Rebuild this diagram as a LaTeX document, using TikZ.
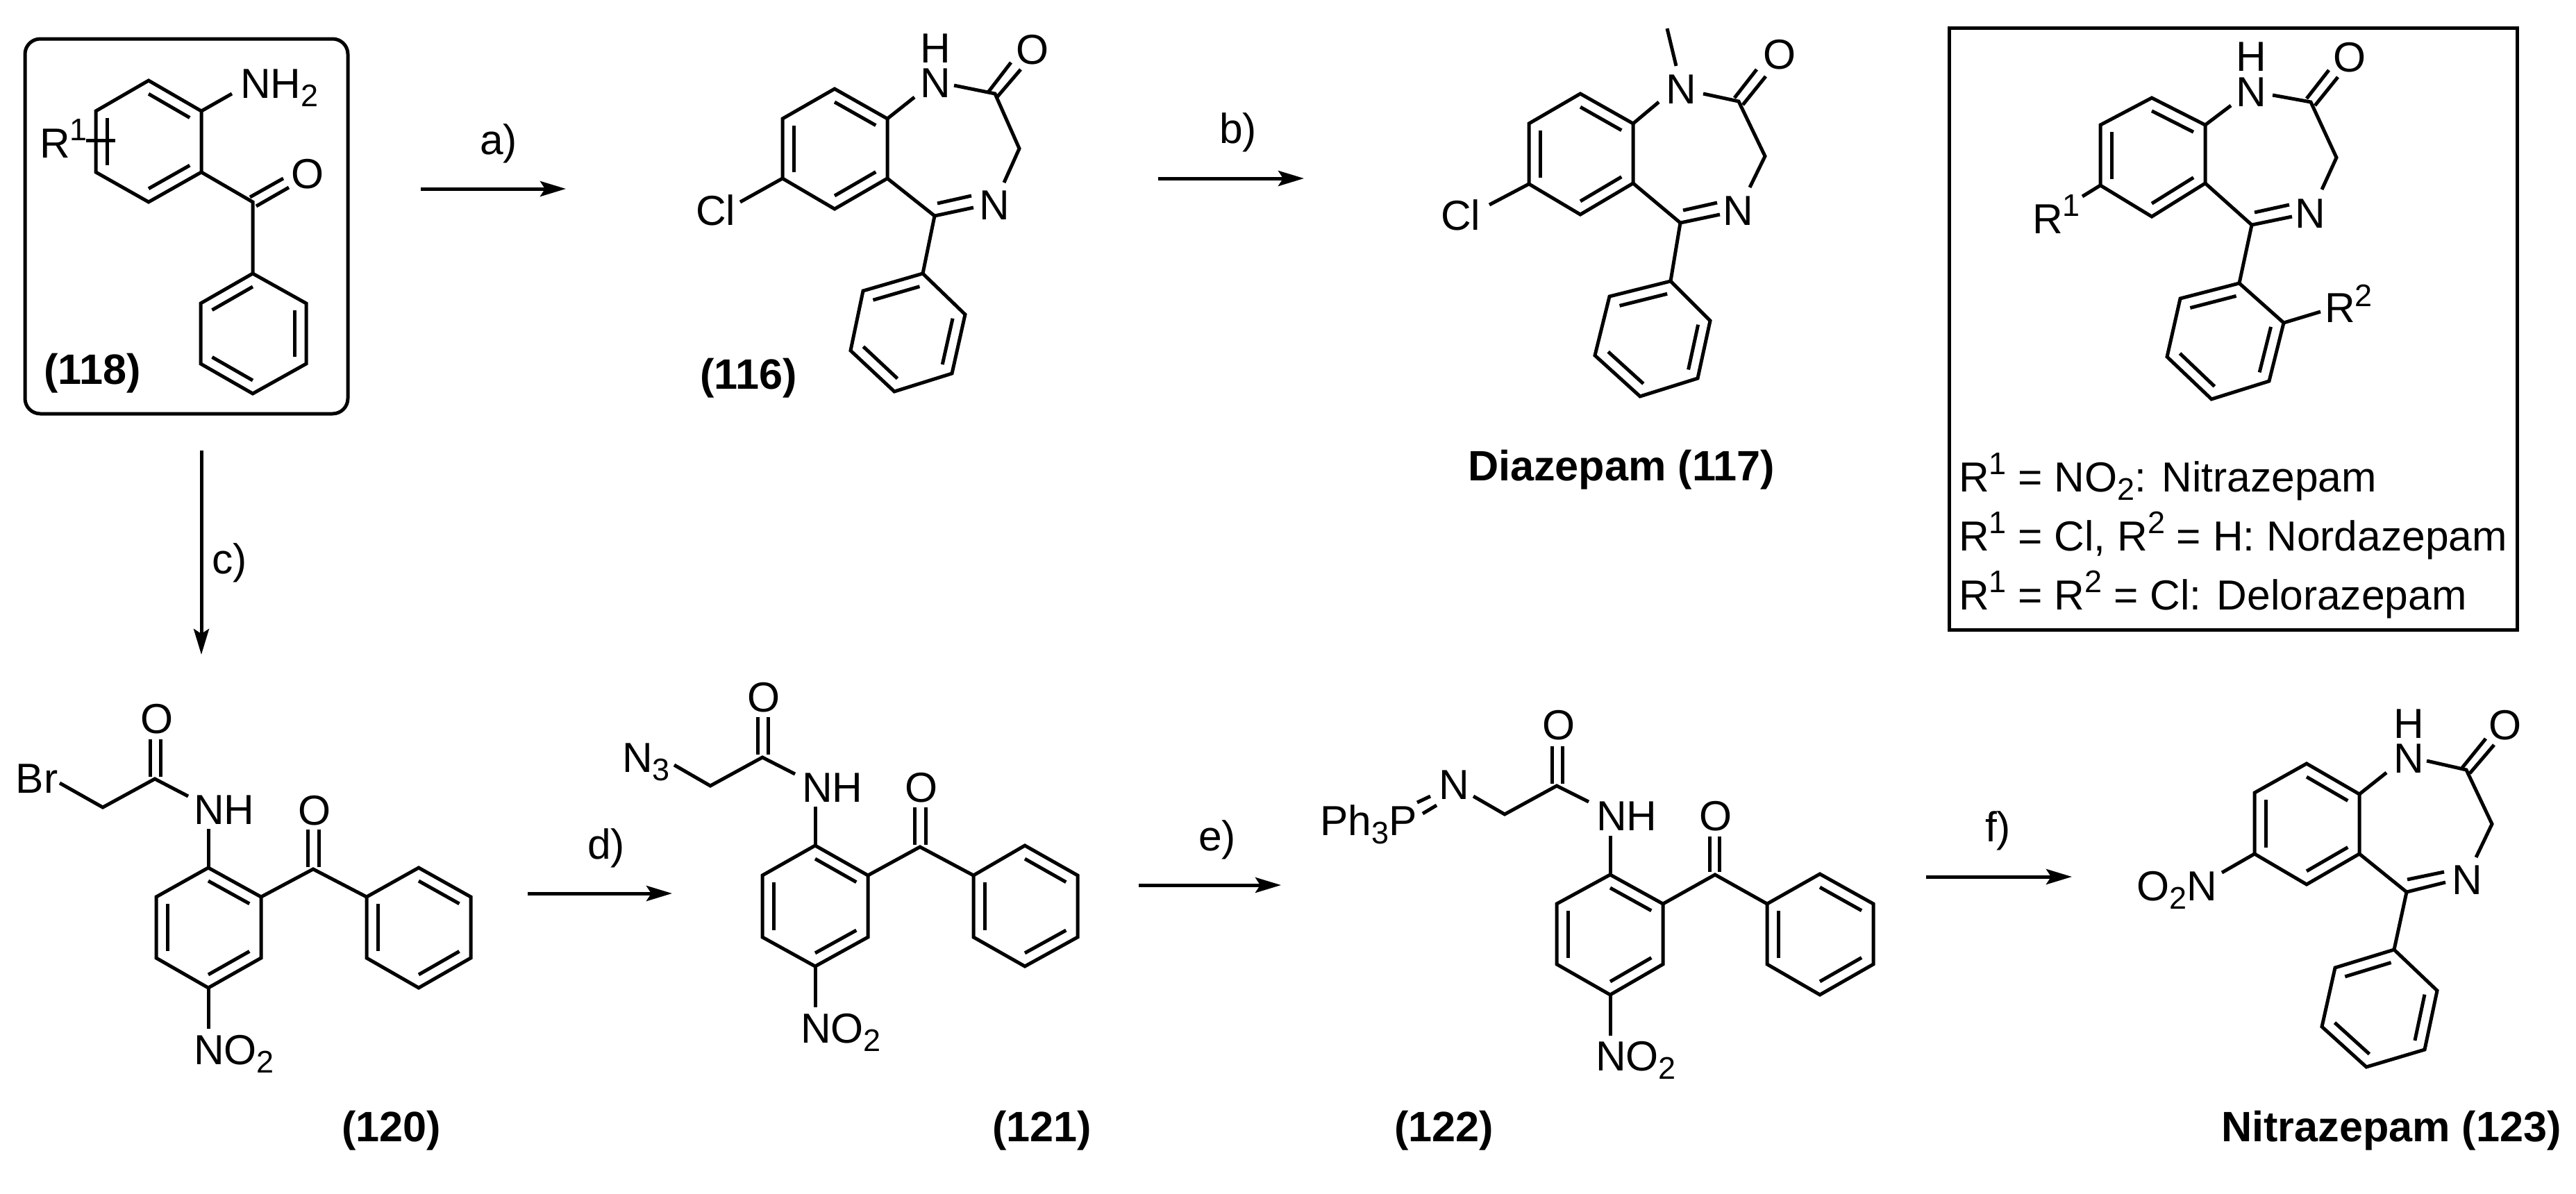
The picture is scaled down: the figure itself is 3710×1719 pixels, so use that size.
\documentclass[tikz,border=0pt]{standalone}
\usepackage{fontspec}
\setmainfont{Liberation Sans}
\usetikzlibrary{calc,arrows.meta}
\tikzset{
  bond/.style={line width=5pt,line join=miter,line cap=butt,black},
  rarrow/.style={line width=5pt,-{Stealth[length=37pt,width=22pt,inset=7pt]}},
  lbl/.style={anchor=base west,inner sep=0pt,outer sep=0pt,xshift=-4pt,font=\fontsize{60.5}{62}\selectfont},
  blbl/.style={lbl,font=\fontsize{61.2}{62}\selectfont\bfseries},
  panel/.style={draw,line width=5pt,inner sep=0pt,outer sep=0pt},
}
\newcommand{\lowsub}[2][12]{\raisebox{-#1pt}{\fontsize{45}{45}\selectfont #2}}
\newcommand{\highsup}[2][25]{\raisebox{#1pt}{\fontsize{45}{45}\selectfont #2}}
% ring: prefix and six vertices, a = top, clockwise
\newcommand{\Ring}[7]{%
  \coordinate (#1a) at (#2);\coordinate (#1b) at (#3);\coordinate (#1c) at (#4);
  \coordinate (#1d) at (#5);\coordinate (#1e) at (#6);\coordinate (#1f) at (#7);
  \coordinate (#1o) at ($(#1a)!.5!(#1d)$);
  \draw[bond] (#1a)--(#1b)--(#1c)--(#1d)--(#1e)--(#1f)--cycle;}
\newcommand{\Dbl}[3]{\draw[bond] ($(#1#2)!.22!(#1o)$)--($(#1#3)!.22!(#1o)$);}
\begin{document}
\begin{tikzpicture}[x=1pt,y=-1pt]
\fill[white] (0,0) rectangle (3710,1719);
\useasboundingbox (0,0) rectangle (3710,1719);

% ---------- 118
\node[panel,rounded corners=22pt,minimum width=465pt,minimum height=540pt] (box118) at (268.5,326) {};
\Ring{p}{214,116}{290,160}{290,248}{214,291}{138,248}{138,160}
\Dbl{p}{a}{b}\Dbl{p}{c}{d}\Dbl{p}{e}{f}
\Ring{q}{364,394}{441,437}{441,524}{364,567}{289,524}{289,437}
\Dbl{q}{f}{a}\Dbl{q}{b}{c}\Dbl{q}{d}{e}
\coordinate (k118) at (364,291);
\coordinate (n118) at (334,135);
\coordinate (r118a) at (124,202);\coordinate (r118b) at (166,202);
\draw[bond] (pb)--(n118);
\draw[bond] (r118a)--(r118b);
\draw[bond] (pc)--(k118)--(qa);
\coordinate (o118a) at (360,284);\coordinate (o118b) at (408,257);
\coordinate (o118c) at (369,297);\coordinate (o118d) at (416,270);
\draw[bond] (o118a)--(o118b);\draw[bond] (o118c)--(o118d);
\node[lbl] (t118n) at (350,141) {NH\lowsub{2}};
\node[lbl] (t118o) at (423,271) {O};
\node[lbl] (t118r) at (61,227) {R\highsup{1}};
\node[blbl] (t118) at (67,553) {(118)};

% ---------- arrows
\coordinate (aS) at (606,272);\coordinate (aE) at (815,272);
\draw[rarrow] (aS)--(aE);
\node[lbl] (ta) at (695,222) {a)};
\coordinate (bS) at (1668,257);\coordinate (bE) at (1878,257);
\draw[rarrow] (bS)--(bE);
\node[lbl] (tb) at (1760,206) {b)};
\coordinate (cS) at (290,649);\coordinate (cE) at (290,943);
\draw[rarrow] (cS)--(cE);
\node[lbl] (tc) at (309,826) {c)};
\coordinate (dS) at (760,1287);\coordinate (dE) at (968,1287);
\draw[rarrow] (dS)--(dE);
\node[lbl] (td) at (850,1237) {d)};
\coordinate (eS) at (1640,1275);\coordinate (eE) at (1845,1275);
\draw[rarrow] (eS)--(eE);
\node[lbl] (te) at (1730,1225) {e)};
\coordinate (fS) at (2774,1263);\coordinate (fE) at (2984,1263);
\draw[rarrow] (fS)--(fE);
\node[lbl] (tf) at (2863,1212) {f)};

% ---------- 116
\Ring{r}{1202,128}{1278,171}{1278,257}{1202,301}{1127,257}{1127,171}
\Dbl{r}{a}{b}\Dbl{r}{c}{d}\Dbl{r}{e}{f}
\Ring{s}{1329,394}{1390,453}{1371,538}{1288,564}{1225,505}{1243,419}
\Dbl{s}{f}{a}\Dbl{s}{b}{c}\Dbl{s}{d}{e}
\coordinate (cl116) at (1066,291);\coordinate (n116) at (1317,140);
\coordinate (n116b) at (1374,123);\coordinate (co116) at (1433,135);
\coordinate (ch116) at (1468,214);\coordinate (cn116) at (1446,263);
\coordinate (im116) at (1346,311);
\coordinate (ima116) at (1350,293);\coordinate (imb116) at (1399,282);
\coordinate (imc116) at (1402,299);
\coordinate (oa116) at (1423,133);\coordinate (ob116) at (1456,90);
\coordinate (oc116) at (1435,141);\coordinate (od116) at (1470,100);
\draw[bond] (re)--(cl116) (rb)--(n116);
\draw[bond] (n116b)--(co116)--(ch116)--(cn116);
\draw[bond] (rc)--(im116)--(sa);
\draw[bond] (im116)--(imc116) (ima116)--(imb116);
\draw[bond] (oa116)--(ob116) (oc116)--(od116);
\node[lbl] (t116h) at (1329,90) {H};
\node[lbl] (t116n) at (1329,140) {N};
\node[lbl] (t116o) at (1467,92) {O};
\node[lbl] (t116m) at (1414,316) {N};
\node[lbl] (t116c) at (1006,324) {Cl};
\node[blbl] (t116) at (1012,560) {(116)};

% ---------- 117
\Ring{u}{2276,135}{2352,178}{2352,264}{2276,309}{2202,265}{2202,178}
\Dbl{u}{a}{b}\Dbl{u}{c}{d}\Dbl{u}{e}{f}
\Ring{v}{2406,405}{2463,462}{2445,545}{2362,571}{2297,512}{2318,427}
\Dbl{v}{f}{a}\Dbl{v}{b}{c}\Dbl{v}{d}{e}
\coordinate (cl117) at (2145,295);\coordinate (n117) at (2389,147);
\coordinate (me117a) at (2401,41);\coordinate (me117b) at (2414,95);
\coordinate (n117b) at (2453,135);\coordinate (co117) at (2504,146);
\coordinate (ch117) at (2542,225);\coordinate (cn117) at (2520,270);
\coordinate (im117) at (2420,321);
\coordinate (ima117) at (2424,303);\coordinate (imb117) at (2473,292);
\coordinate (imc117) at (2477,309);
\coordinate (oa117) at (2498,141);\coordinate (ob117) at (2530,100);
\coordinate (oc117) at (2510,151);\coordinate (od117) at (2543,110);
\draw[bond] (ue)--(cl117) (ub)--(n117) (me117a)--(me117b);
\draw[bond] (n117b)--(co117)--(ch117)--(cn117);
\draw[bond] (uc)--(im117)--(va);
\draw[bond] (im117)--(imc117) (ima117)--(imb117);
\draw[bond] (oa117)--(ob117) (oc117)--(od117);
\node[lbl] (t117n) at (2403,149) {N};
\node[lbl] (t117o) at (2543,99) {O};
\node[lbl] (t117m) at (2485,324) {N};
\node[lbl] (t117c) at (2079,331) {Cl};
\node[blbl] (t117) at (2118,692) {Diazepam (117)};

% ---------- general structure panel
\node[panel,minimum width=818pt,minimum height=867pt] (boxgen) at (3216,473.5) {};
\Ring{w}{3099,141}{3176,180}{3176,264}{3099,312}{3025,267}{3025,180}
\Dbl{w}{a}{b}\Dbl{w}{c}{d}\Dbl{w}{e}{f}
\Ring{x}{3225,408}{3289,465}{3268,549}{3185,575}{3121,514}{3140,430}
\Dbl{x}{f}{a}\Dbl{x}{b}{c}\Dbl{x}{d}{e}
\coordinate (r1g) at (2999,283);\coordinate (ng) at (3213,152);
\coordinate (nbg) at (3273,137);\coordinate (cog) at (3328,147);
\coordinate (chg) at (3365,227);\coordinate (cng) at (3344,273);
\coordinate (img) at (3243,324);\coordinate (r2g) at (3342,449);
\coordinate (imag) at (3247,306);\coordinate (imbg) at (3297,295);
\coordinate (imcg) at (3301,312);
\coordinate (oag) at (3322,142);\coordinate (obg) at (3354,101);
\coordinate (ocg) at (3334,152);\coordinate (odg) at (3367,111);
\draw[bond] (we)--(r1g) (wb)--(ng) (xb)--(r2g);
\draw[bond] (nbg)--(cog)--(chg)--(cng);
\draw[bond] (wc)--(img)--(xa);
\draw[bond] (img)--(imcg) (imag)--(imbg);
\draw[bond] (oag)--(obg) (ocg)--(odg);
\node[lbl] (tgh) at (3224,102) {H};
\node[lbl] (tgn) at (3224,153) {N};
\node[lbl] (tgo) at (3364,103) {O};
\node[lbl] (tgm) at (3309,328) {N};
\node[lbl] (tgr1) at (2931,336) {R\highsup{1}};
\node[lbl] (tgr2) at (3352,464) {R\highsup[23]{2}};
\node[lbl] (tl1) at (2825,708) {R\highsup{1} = NO\lowsub{2}: Nitrazepam};
\node[lbl] (tl2) at (2825,793) {R\highsup{1} = Cl, R\highsup{2} = H: Nordazepam};
\node[lbl] (tl3) at (2825,878) {R\highsup{1} = R\highsup{2} = Cl: Delorazepam};

% ---------- 120
\Ring{g}{300,1250}{376,1292}{376,1380}{300,1423}{225,1380}{225,1292}
\Dbl{g}{a}{b}\Dbl{g}{c}{d}\Dbl{g}{e}{f}
\Ring{h}{603,1250}{678,1292}{678,1380}{603,1423}{528,1380}{528,1292}
\Dbl{h}{f}{e}\Dbl{h}{a}{b}\Dbl{h}{c}{d}
\coordinate (nh120) at (300,1194);\coordinate (no120) at (300,1482);
\coordinate (k120) at (451,1252);
\coordinate (oa120) at (443,1249);\coordinate (ob120) at (443,1195);
\coordinate (oc120) at (459,1249);\coordinate (od120) at (459,1195);
\coordinate (am120) at (223,1122);\coordinate (amn120) at (271,1147);
\coordinate (ch120) at (148,1163);\coordinate (br120) at (86,1128);
\coordinate (aa120) at (216,1119);\coordinate (ab120) at (216,1065);
\coordinate (ac120) at (231,1119);\coordinate (ad120) at (231,1065);
\draw[bond] (ga)--(nh120) (gd)--(no120);
\draw[bond] (gb)--(k120)--(hf);
\draw[bond] (oa120)--(ob120) (oc120)--(od120);
\draw[bond] (amn120)--(am120)--(ch120)--(br120);
\draw[bond] (aa120)--(ab120) (ac120)--(ad120);
\node[lbl] (t120nh) at (283,1187) {NH};
\node[lbl] (t120no) at (283,1533) {NO\lowsub{2}};
\node[lbl] (t120o) at (433,1188) {O};
\node[lbl] (t120oo) at (206,1056) {O};
\node[lbl] (t120br) at (27,1142) {Br};
\node[blbl] (t120) at (496,1644) {(120)};

% ---------- 121
\Ring{i}{1174,1218}{1250,1261}{1250,1350}{1174,1392}{1098,1350}{1098,1261}
\Dbl{i}{a}{b}\Dbl{i}{c}{d}\Dbl{i}{e}{f}
\Ring{j}{1476,1218}{1552,1261}{1552,1350}{1476,1392}{1402,1350}{1402,1261}
\Dbl{j}{f}{e}\Dbl{j}{a}{b}\Dbl{j}{c}{d}
\coordinate (nh121) at (1174,1162);\coordinate (no121) at (1174,1451);
\coordinate (k121) at (1325,1220);
\coordinate (oa121) at (1317,1217);\coordinate (ob121) at (1317,1163);
\coordinate (oc121) at (1333,1217);\coordinate (od121) at (1333,1163);
\coordinate (am121) at (1098,1091);\coordinate (amn121) at (1145,1115);
\coordinate (ch121) at (1023,1132);\coordinate (az121) at (971,1102);
\coordinate (aa121) at (1091,1087);\coordinate (ab121) at (1091,1033);
\coordinate (ac121) at (1106,1087);\coordinate (ad121) at (1106,1033);
\draw[bond] (ia)--(nh121) (id)--(no121);
\draw[bond] (ib)--(k121)--(jf);
\draw[bond] (oa121)--(ob121) (oc121)--(od121);
\draw[bond] (amn121)--(am121)--(ch121)--(az121);
\draw[bond] (aa121)--(ab121) (ac121)--(ad121);
\node[lbl] (t121nh) at (1159,1155) {NH};
\node[lbl] (t121no) at (1157,1502) {NO\lowsub{2}};
\node[lbl] (t121o) at (1307,1155) {O};
\node[lbl] (t121oo) at (1080,1025) {O};
\node[lbl] (t121n) at (900,1112) {N\lowsub{3}};
\node[blbl] (t121) at (1433,1644) {(121)};

% ---------- 122
\Ring{k}{2319,1260}{2395,1302}{2395,1389}{2319,1433}{2242,1389}{2242,1302}
\Dbl{k}{a}{b}\Dbl{k}{c}{d}\Dbl{k}{e}{f}
\Ring{l}{2621,1259}{2698,1302}{2698,1389}{2621,1433}{2545,1389}{2545,1302}
\Dbl{l}{f}{e}\Dbl{l}{a}{b}\Dbl{l}{c}{d}
\coordinate (nh122) at (2319,1204);\coordinate (no122) at (2319,1492);
\coordinate (k122) at (2470,1260);
\coordinate (oa122) at (2462,1256);\coordinate (ob122) at (2462,1205);
\coordinate (oc122) at (2476,1256);\coordinate (od122) at (2476,1205);
\coordinate (am122) at (2242,1132);\coordinate (amn122) at (2288,1155);
\coordinate (ch122) at (2167,1173);\coordinate (nn122) at (2122,1147);
\coordinate (aa122) at (2235,1129);\coordinate (ab122) at (2235,1075);
\coordinate (ac122) at (2250,1129);\coordinate (ad122) at (2250,1075);
\coordinate (pa122) at (2060,1147);\coordinate (pb122) at (2041,1156);
\coordinate (pc122) at (2069,1160);\coordinate (pd122) at (2049,1172);
\draw[bond] (ka)--(nh122) (kd)--(no122);
\draw[bond] (kb)--(k122)--(lf);
\draw[bond] (oa122)--(ob122) (oc122)--(od122);
\draw[bond] (amn122)--(am122)--(ch122)--(nn122);
\draw[bond] (aa122)--(ab122) (ac122)--(ad122);
\draw[bond] (pa122)--(pb122) (pc122)--(pd122);
\node[lbl] (t122nh) at (2303,1196) {NH};
\node[lbl] (t122no) at (2302,1542) {NO\lowsub{2}};
\node[lbl] (t122o) at (2451,1196) {O};
\node[lbl] (t122oo) at (2225,1065) {O};
\node[lbl] (t122n) at (2076,1151) {N};
\node[lbl] (t122p) at (1905,1203) {Ph\lowsub{3}P};
\node[blbl] (t122) at (2012,1644) {(122)};

% ---------- 123
\Ring{m}{3322,1100}{3398,1144}{3398,1230}{3322,1274}{3247,1230}{3247,1142}
\Dbl{m}{a}{b}\Dbl{m}{c}{d}\Dbl{m}{e}{f}
\Ring{y}{3448,1368}{3510,1427}{3492,1512}{3408,1537}{3344,1479}{3363,1394}
\Dbl{y}{f}{a}\Dbl{y}{b}{c}\Dbl{y}{d}{e}
\coordinate (no123) at (3200,1257);\coordinate (n123) at (3437,1113);
\coordinate (nb123) at (3495,1096);\coordinate (co123) at (3552,1109);
\coordinate (ch123) at (3589,1187);\coordinate (cn123) at (3566,1235);
\coordinate (im123) at (3466,1285);
\coordinate (ima123) at (3467,1267);\coordinate (imb123) at (3520,1256);
\coordinate (imc123) at (3522,1271);
\coordinate (oa123) at (3546,1106);\coordinate (ob123) at (3580,1064);
\coordinate (oc123) at (3557,1114);\coordinate (od123) at (3592,1073);
\draw[bond] (me)--(no123) (mb)--(n123);
\draw[bond] (nb123)--(co123)--(ch123)--(cn123);
\draw[bond] (mc)--(im123)--(ya);
\draw[bond] (im123)--(imc123) (ima123)--(imb123);
\draw[bond] (oa123)--(ob123) (oc123)--(od123);
\node[lbl] (t123h) at (3451,1063) {H};
\node[lbl] (t123n) at (3451,1113) {N};
\node[lbl] (t123o) at (3588,1065) {O};
\node[lbl] (t123m) at (3535,1288) {N};
\node[lbl] (t123no) at (3081,1297) {O\lowsub{2}N};
\node[blbl] (t123) at (3203,1644) {Nitrazepam (123)};
\end{tikzpicture}
\end{document}
